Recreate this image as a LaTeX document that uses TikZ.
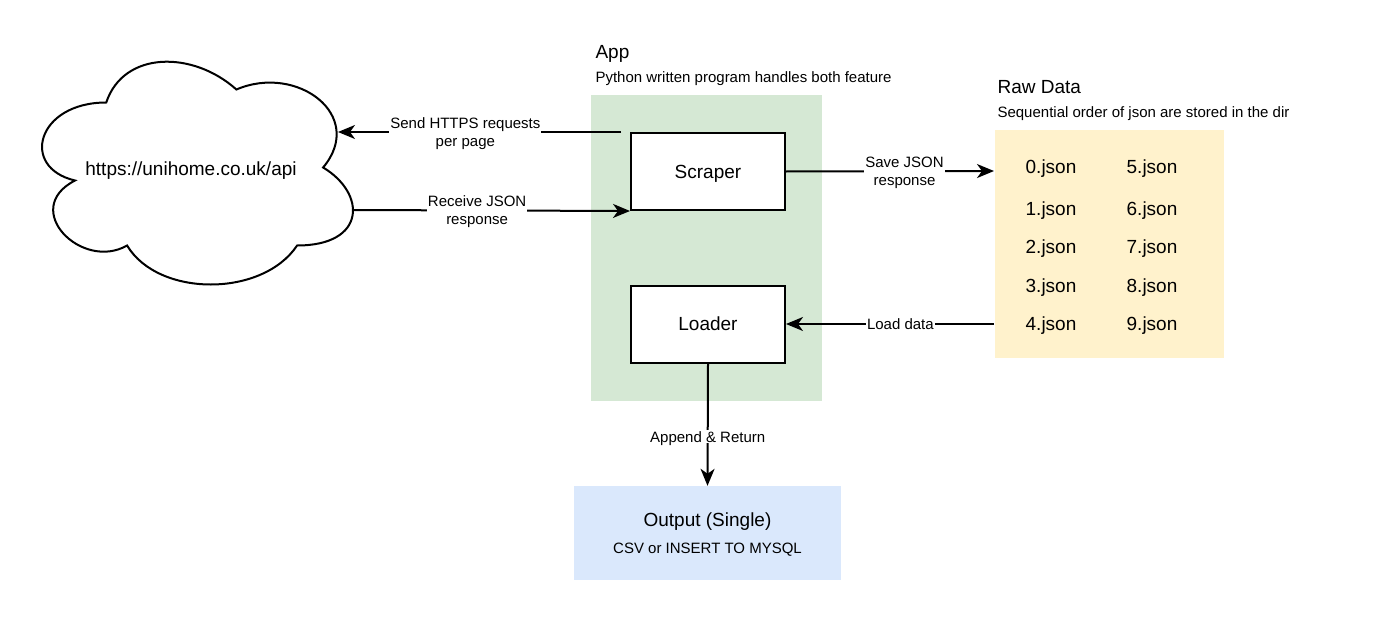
\documentclass[tikz,border=0pt]{standalone}
\usepackage{fontspec}
\setmainfont{Liberation Sans}
\usetikzlibrary{arrows.meta}
\definecolor{appgreen}{HTML}{D5E8D4}
\definecolor{rawyellow}{HTML}{FFF2CC}
\definecolor{outblue}{HTML}{DAE8FC}
\tikzset{
  bigtext/.style={font=\fontsize{19}{22}\selectfont,text depth=0pt},
  smalltext/.style={font=\fontsize{15}{18}\selectfont,text depth=0pt},
  block/.style={draw,line width=2pt,fill=white,minimum width=154pt,minimum height=77pt,bigtext},
  flow/.style={line width=2pt,-{Stealth[length=17pt,width=14pt,inset=5pt]}},
  edgelabel/.style={fill=white,inner sep=1pt,align=center,smalltext}
}

\begin{document}
\begin{tikzpicture}[x=1pt,y=-1pt]
\useasboundingbox (0,0) rectangle (1376,618);
% back panels
\fill[appgreen] (591,95) rectangle (822,401);
\fill[rawyellow] (995,130) rectangle (1224,358);
\node[fill=outblue,minimum width=267pt,minimum height=94pt] (output) at (707.5,533) {};
\node[anchor=west,bigtext] (apptitle) at (592,52) {App};
\node[anchor=west,smalltext] (appsub) at (592,77) {Python written program handles both feature};
\node[anchor=west,bigtext] (rawtitle) at (994,87) {Raw Data};
\node[anchor=west,smalltext] (rawsub) at (994,112) {Sequential order of json are stored in the dir};
\node[bigtext] (outtitle) at (707.5,520) {Output (Single)};
\node[smalltext] (outsub) at (707.5,548) {CSV or INSERT TO MYSQL};
% cloud
\begin{scope}[shift={(19.5,37.5)},xscale=347,yscale=260]
\draw[line width=2pt,fill=white] (0.25,0.25)
  .. controls (0.05,0.25) and (0,0.5) .. (0.16,0.55)
  .. controls (0,0.66) and (0.18,0.9) .. (0.31,0.8)
  .. controls (0.4,1) and (0.7,1) .. (0.8,0.8)
  .. controls (1,0.8) and (1,0.6) .. (0.875,0.5)
  .. controls (1,0.3) and (0.8,0.1) .. (0.625,0.2)
  .. controls (0.5,0.05) and (0.3,0.05) .. (0.25,0.25) -- cycle;
\end{scope}
\node[bigtext] (cloud) at (191,169) {https://unihome.co.uk/api};
\coordinate (cloudin) at (338,132);
\coordinate (cloudout) at (352,210);
% app blocks
\node[block] (scraper) at (708,171.5) {Scraper};
\node[block] (loader) at (708,324) {Loader};
\coordinate (sendstart) at (621,132);
\coordinate (rawin) at (994,171);
\coordinate (rawout) at (994,324);
% json files
\foreach \i/\y in {0/167,1/209,2/247,3/286,4/324}{
  \node[bigtext] (json\i) at (1051,\y) {\i.json};
}
\foreach \i/\y in {5/167,6/209,7/247,8/286,9/324}{
  \node[bigtext] (json\i) at (1152,\y) {\i.json};
}
% connectors
\draw[flow] (sendstart) -- node[edgelabel,pos=0.55] {Send HTTPS requests\\per page} (cloudin);
\draw[flow] (cloudout) -- node[edgelabel,pos=0.45] {Receive JSON\\response} (scraper.south west);
\draw[flow] (scraper.east) -- node[edgelabel,pos=0.57] {Save JSON\\response} (rawin);
\draw[flow] (rawout) -- node[edgelabel,pos=0.45] {Load data} (loader.east);
\draw[flow] (loader.south) -- node[edgelabel,pos=0.6] {Append \& Return} (output.north);
\end{tikzpicture}
\end{document}
